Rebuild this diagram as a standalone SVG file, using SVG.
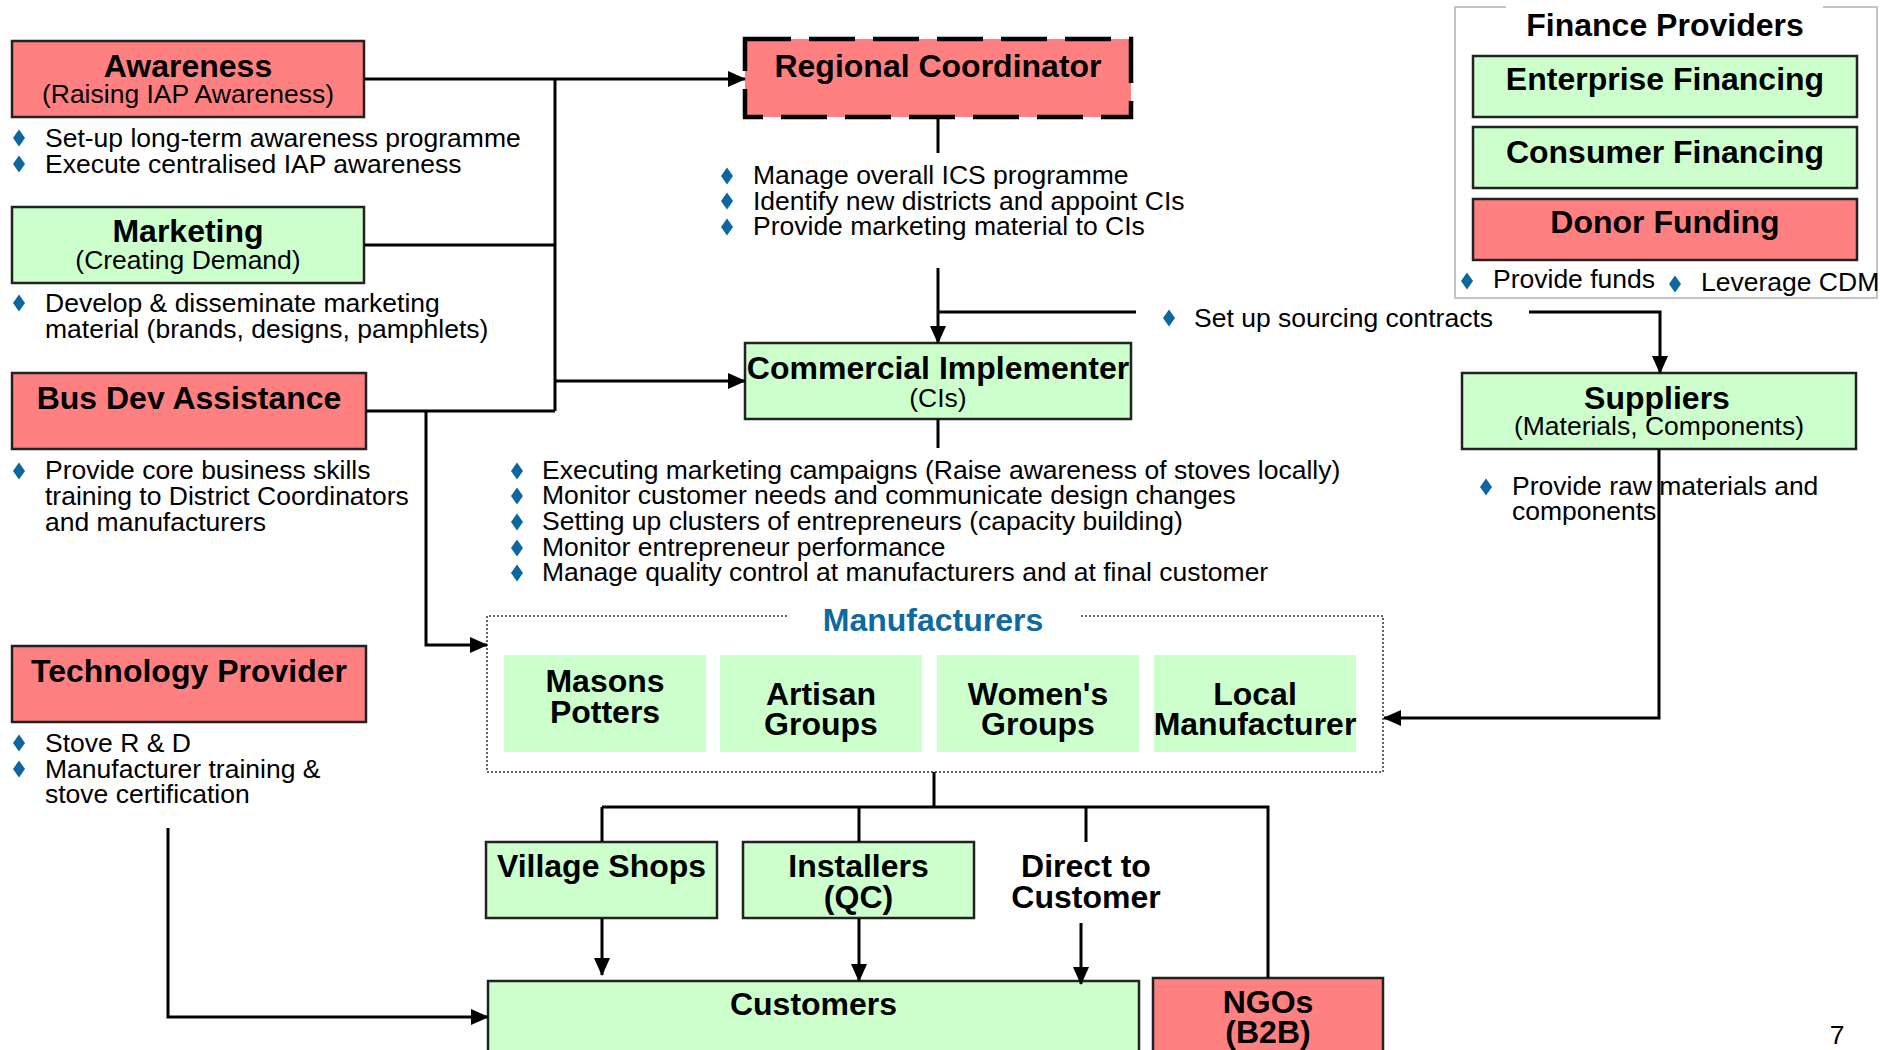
<svg xmlns="http://www.w3.org/2000/svg" xmlns:xlink="http://www.w3.org/1999/xlink" width="1880" height="1050" viewBox="0 0 1880 1050">
<style>
.box{stroke:#222;stroke-width:2.5}
.red{fill:#FF8080}
.green{fill:#CCFFCC}
.t{font-family:"Liberation Sans",Arial,sans-serif;font-weight:bold;font-size:32px;text-anchor:middle;fill:#000}
.s{font-family:"Liberation Sans",Arial,sans-serif;font-size:26.5px;text-anchor:middle;fill:#000}
.b{font-family:"Liberation Sans",Arial,sans-serif;font-size:26.5px;fill:#000}
.c{fill:none;stroke:#000;stroke-width:3}
.dia{fill:#0B679E}
</style>
<defs>
<marker id="arr" markerUnits="userSpaceOnUse" markerWidth="18" markerHeight="16" refX="17" refY="8" orient="auto">
<path d="M0,0 L18,8 L0,16 Z" fill="#000"/>
</marker>
<path id="d" d="M0,-8.5 L6,0 L0,8.5 L-6,0 Z"/>
</defs>
<rect width="1880" height="1050" fill="#fff"/>

<g id="awareness">
<rect class="box red" x="12" y="41" width="352" height="76"/>
<text class="t" x="188" y="77">Awareness</text>
<text class="s" x="188" y="102.5">(Raising IAP Awareness)</text>
<use href="#d" class="dia" x="19" y="138"/><use href="#d" class="dia" x="19" y="164"/>
<text class="b" x="45" y="147">Set-up long-term awareness programme</text>
<text class="b" x="45" y="173">Execute centralised IAP awareness</text>
</g>

<g id="marketing">
<rect class="box green" x="12" y="207" width="352" height="76"/>
<text class="t" x="188" y="242">Marketing</text>
<text class="s" x="188" y="269">(Creating Demand)</text>
<use href="#d" class="dia" x="19" y="303"/>
<text class="b" x="45" y="312">Develop &amp; disseminate marketing</text>
<text class="b" x="45" y="338">material (brands, designs, pamphlets)</text>
</g>

<g id="busdev">
<rect class="box red" x="12" y="373" width="354" height="76"/>
<text class="t" x="189" y="409">Bus Dev Assistance</text>
<use href="#d" class="dia" x="19" y="471"/>
<text class="b" x="45" y="479">Provide core business skills</text>
<text class="b" x="45" y="505">training to District Coordinators</text>
<text class="b" x="45" y="531">and manufacturers</text>
</g>

<g id="tech">
<rect class="box red" x="12" y="646" width="354" height="76"/>
<text class="t" x="189" y="682">Technology Provider</text>
<use href="#d" class="dia" x="19" y="743"/><use href="#d" class="dia" x="19" y="769"/>
<text class="b" x="45" y="752">Stove R &amp; D</text>
<text class="b" x="45" y="778">Manufacturer training &amp;</text>
<text class="b" x="45" y="803">stove certification</text>
</g>

<g id="regional">
<rect x="745" y="39" width="386" height="78" fill="#FF8080" stroke="#000" stroke-width="4.5" stroke-dasharray="46 18"/>
<text class="t" x="938" y="77">Regional Coordinator</text>
<use href="#d" class="dia" x="727" y="176"/><use href="#d" class="dia" x="727" y="201"/><use href="#d" class="dia" x="727" y="227"/>
<text class="b" x="753" y="184">Manage overall ICS programme</text>
<text class="b" x="753" y="209.5">Identify new districts and appoint CIs</text>
<text class="b" x="753" y="235">Provide marketing material to CIs</text>
</g>

<g id="ci">
<rect class="box green" x="745" y="343" width="386" height="76"/>
<text class="t" x="938" y="379">Commercial Implementer</text>
<text class="s" x="938" y="407">(CIs)</text>
<use href="#d" class="dia" x="517" y="471"/><use href="#d" class="dia" x="517" y="496"/><use href="#d" class="dia" x="517" y="522"/><use href="#d" class="dia" x="517" y="548"/><use href="#d" class="dia" x="517" y="573"/>
<text class="b" x="542" y="479">Executing marketing campaigns (Raise awareness of stoves locally)</text>
<text class="b" x="542" y="504">Monitor customer needs and communicate design changes</text>
<text class="b" x="542" y="530">Setting up clusters of entrepreneurs (capacity building)</text>
<text class="b" x="542" y="556">Monitor entrepreneur performance</text>
<text class="b" x="542" y="581">Manage quality control at manufacturers and at final customer</text>
</g>

<g id="sourcing">
<use href="#d" class="dia" x="1169" y="318"/>
<text class="b" x="1194" y="327">Set up sourcing contracts</text>
</g>

<g id="finance">
<path d="M1506,7 H1455 V298 H1877 V7 H1823" fill="none" stroke="#c4c4c4" stroke-width="2"/>
<text class="t" x="1665" y="36">Finance Providers</text>
<rect class="box green" x="1473" y="56" width="384" height="61"/>
<text class="t" x="1665" y="90">Enterprise Financing</text>
<rect class="box green" x="1473" y="127" width="384" height="61"/>
<text class="t" x="1665" y="163">Consumer Financing</text>
<rect class="box red" x="1473" y="199" width="384" height="61"/>
<text class="t" x="1665" y="233">Donor Funding</text>
<use href="#d" class="dia" x="1467" y="281"/>
<text class="b" x="1493" y="288">Provide funds</text>
<use href="#d" class="dia" x="1675" y="284"/>
<text class="b" x="1701" y="291">Leverage CDM</text>
</g>

<g id="suppliers">
<rect class="box green" x="1462" y="373" width="394" height="76"/>
<text class="t" x="1657" y="409">Suppliers</text>
<text class="s" x="1659" y="435">(Materials, Components)</text>
<use href="#d" class="dia" x="1486" y="487"/>
<text class="b" x="1512" y="495">Provide raw materials and</text>
<text class="b" x="1512" y="520">components</text>
</g>

<g id="manufacturers">
<path d="M787,616 H487 V772 H1383 V616 H1079" fill="none" stroke="#333" stroke-width="1.5" stroke-dasharray="2 2"/>
<text class="t" x="933" y="631" style="fill:#0E6AA0">Manufacturers</text>
<rect class="green" x="504" y="655" width="202" height="97"/>
<text class="t" x="605" y="692">Masons</text><text class="t" x="605" y="723">Potters</text>
<rect class="green" x="720" y="655" width="202" height="97"/>
<text class="t" x="821" y="705">Artisan</text><text class="t" x="821" y="735">Groups</text>
<rect class="green" x="937" y="655" width="202" height="97"/>
<text class="t" x="1038" y="705">Women's</text><text class="t" x="1038" y="735">Groups</text>
<rect class="green" x="1154" y="655" width="202" height="97"/>
<text class="t" x="1255" y="705">Local</text><text class="t" x="1255" y="735">Manufacturer</text>
</g>

<g id="village">
<rect class="box green" x="486" y="842" width="231" height="76"/>
<text class="t" x="601.5" y="877">Village Shops</text>
</g>

<g id="installers">
<rect class="box green" x="743" y="842" width="231" height="76"/>
<text class="t" x="858.5" y="877">Installers</text>
<text class="t" x="858.5" y="908">(QC)</text>
</g>

<g id="direct">
<text class="t" x="1086" y="877">Direct to</text>
<text class="t" x="1086" y="908">Customer</text>
</g>

<g id="customers">
<rect class="box green" x="488" y="981" width="651" height="90"/>
<text class="t" x="813.5" y="1015">Customers</text>
</g>

<g id="ngos">
<rect class="box red" x="1153" y="978" width="230" height="90"/>
<text class="t" x="1268" y="1013">NGOs</text>
<text class="t" x="1268" y="1043">(B2B)</text>
</g>

<g id="pagenum">
<text class="s" x="1837" y="1044">7</text>
</g>

<g id="connectors">
<path class="c" d="M364,79 H745" marker-end="url(#arr)"/>
<path class="c" d="M555,79 V411"/>
<path class="c" d="M364,245 H555"/>
<path class="c" d="M366,411 H555"/>
<path class="c" d="M555,381 H745" marker-end="url(#arr)"/>
<path class="c" d="M426,411 V645 H487" marker-end="url(#arr)"/>
<path class="c" d="M938,117 V153"/>
<path class="c" d="M938,268 V343" marker-end="url(#arr)"/>
<path class="c" d="M938,312 H1136"/>
<path class="c" d="M1529,312 H1660 V373" marker-end="url(#arr)"/>
<path class="c" d="M938,419 V448"/>
<path class="c" d="M1659,449 V718 H1384" marker-end="url(#arr)"/>
<path class="c" d="M934,772 V807"/>
<path class="c" d="M602,807 H1268 V978"/>
<path class="c" d="M602,807 V842"/>
<path class="c" d="M859,807 V842"/>
<path class="c" d="M1086,807 V842"/>
<path class="c" d="M602,918 V975" marker-end="url(#arr)"/>
<path class="c" d="M859,918 V981" marker-end="url(#arr)"/>
<path class="c" d="M1081,923 V984" marker-end="url(#arr)"/>
<path class="c" d="M168,828 V1017 H488" marker-end="url(#arr)"/>
</g>
</svg>
